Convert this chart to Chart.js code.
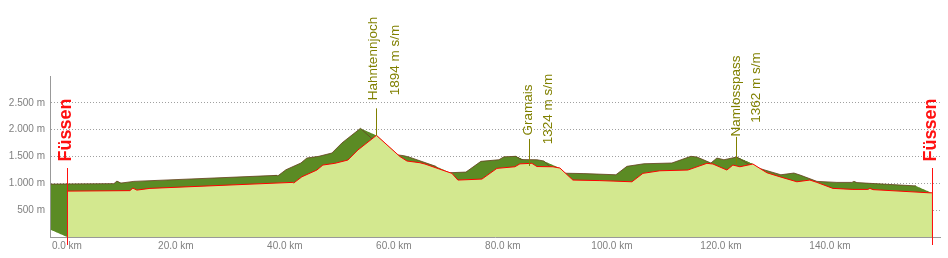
<!DOCTYPE html>
<html>
<head>
<meta charset="utf-8">
<script src="https://cdn.jsdelivr.net/npm/chart.js@4/dist/chart.umd.min.js"></script>
<style>
  html, body { margin: 0; padding: 0; background: #fff; }
  #wrap { width: 948px; height: 258px; position: relative; }
</style>
</head>
<body>
<div id="wrap"><canvas id="c"></canvas></div>
<script>
// ---- data ----
const distKm = [0, 11.56, 12.11, 12.84, 15.23, 41.47, 41.6, 43.12, 45.87, 46.97, 49.17, 51.56, 53.39, 56.8,
  61.1, 62.39, 64.77, 65.69, 70.64, 71.74, 76.15, 78.9, 82.2, 83.12, 85.32, 86.24, 89.17, 90.46, 92.84,
  97.8, 103.67, 105.69, 108.8, 113.94, 117.43, 118.53, 121.1, 122.2, 123.49, 125.87, 128.44, 131.19,
  133.94, 136.33, 137.61, 140.55, 144.22, 146.97, 147.34, 147.9, 158.35, 158.72];
const elevM = [855, 864, 911, 874, 906, 1018, 1005, 1122, 1248, 1341, 1373, 1434, 1621, 1894,
  1500, 1416, 1384, 1360, 1186, 1061, 1079, 1279, 1309, 1363, 1373, 1313, 1309, 1285, 1061,
  1051, 1029, 1186, 1234, 1248, 1373, 1360, 1248, 1341, 1309, 1360, 1197, 1111,
  1029, 1061, 1018, 906, 887, 887, 906, 883, 823, 823];
const xTicks = [0, 20, 40, 60, 80, 100, 120, 140];
const yTicks = [500, 1000, 1500, 2000, 2500];
const passNames = ['Hahntennjoch', 'Gramais', 'Namlosspass'];
const passKm = [56.8, 84.77, 122.7];
const passElev = [1894, 1324, 1362];
const endNames = ['Füssen', 'Füssen'];
const endKm = [0, 158.72];

// ---- styles / layout (pixels) ----
const passLayout = [
  { nameDx: -3.5, elevDx: 18.5, nameCy: 58.5, elevCy: 60 },
  { nameDx: -1, elevDx: 19, nameCy: 110, elevCy: 109 },
  { nameDx: 0, elevDx: 20, nameCy: 96, elevCy: 87.5 }
];
const DEPTH_X = -16, DEPTH_Y = -7;

function fmtThousands(v) {
  return String(v).replace(/\B(?=(\d{3})+(?!\d))/g, '.');
}

const depthPlugin = {
  id: 'depth',
  beforeDatasetsDraw(chart) {
    const meta = chart.getDatasetMeta(0);
    const pts = meta.data;
    if (!pts.length) return;
    const ctx = chart.ctx;
    const base = chart.scales.y.getPixelForValue(0);
    const N = 32;
    ctx.save();
    ctx.beginPath();
    for (let s = 0; s <= N; s++) {
      const ox = DEPTH_X * s / N, oy = DEPTH_Y * s / N;
      ctx.moveTo(pts[0].x + ox, base + oy);
      for (const p of pts) ctx.lineTo(p.x + ox, p.y + oy);
      ctx.lineTo(pts[pts.length - 1].x + ox, base + oy);
      ctx.closePath();
    }
    ctx.fillStyle = '#5b8b24';
    ctx.fill('nonzero');
    // top edge of the back surface
    ctx.beginPath();
    pts.forEach((p, i) => {
      const x = p.x + DEPTH_X, y = p.y + DEPTH_Y;
      if (i === 0) ctx.moveTo(x, y); else ctx.lineTo(x, y);
    });
    ctx.strokeStyle = 'rgba(105,70,35,0.85)';
    ctx.lineWidth = 1;
    ctx.stroke();
    ctx.restore();
  }
};

const labelPlugin = {
  id: 'labels',
  afterDatasetsDraw(chart) {
    const ctx = chart.ctx;
    const xs = chart.scales.x, ys = chart.scales.y;
    ctx.save();
    // pass markers
    passNames.forEach((name, i) => {
      const x = Math.round(xs.getPixelForValue(passKm[i])) + 0.5;
      const y = ys.getPixelForValue(passElev[i]);
      const L = passLayout[i];
      ctx.strokeStyle = '#808000';
      ctx.lineWidth = 1;
      ctx.beginPath();
      ctx.moveTo(x, y);
      ctx.lineTo(x, y - 27);
      ctx.stroke();
      ctx.fillStyle = '#808000';
      ctx.font = '13.5px "Liberation Sans", Arial, sans-serif';
      ctx.textAlign = 'center';
      ctx.textBaseline = 'middle';
      [[name, L.nameDx, L.nameCy], [passElev[i] + ' m s/m', L.elevDx, L.elevCy]].forEach(([t, dx, cy]) => {
        ctx.save();
        ctx.translate(x + dx, cy);
        ctx.rotate(-Math.PI / 2);
        ctx.fillText(t, 0, 0);
        ctx.restore();
      });
    });
    // start / end markers
    endNames.forEach((name, i) => {
      const x = Math.round(xs.getPixelForValue(endKm[i])) + 0.5;
      ctx.strokeStyle = '#ff1010';
      ctx.lineWidth = 1;
      ctx.beginPath();
      ctx.moveTo(x, 168);
      ctx.lineTo(x, 245);
      ctx.stroke();
      ctx.fillStyle = '#ff1010';
      ctx.font = 'bold 18px "Liberation Sans", Arial, sans-serif';
      ctx.textAlign = 'center';
      ctx.textBaseline = 'middle';
      ctx.save();
      ctx.translate(x - 1.5, 130);
      ctx.rotate(-Math.PI / 2);
      ctx.fillText(name, 0, 0);
      ctx.restore();
    });
    ctx.restore();
  }
};

const points = distKm.map((d, i) => ({ x: d, y: elevM[i] }));

new Chart(document.getElementById('c'), {
  type: 'line',
  data: {
    datasets: [{
      data: points,
      fill: 'origin',
      backgroundColor: '#d3e88f',
      borderColor: '#ff0000',
      borderWidth: 1,
      pointRadius: 0,
      tension: 0
    }]
  },
  options: {
    responsive: true,
    maintainAspectRatio: false,
    animation: false,
    events: [],
    layout: { padding: { left: 0, right: 8, top: 76, bottom: 0 } },
    plugins: { legend: { display: false }, tooltip: { enabled: false } },
    scales: {
      x: {
        type: 'linear',
        min: -3.1,
        max: 160.2,
        afterBuildTicks: s => { s.ticks = xTicks.map(v => ({ value: v })); },
        afterFit: s => { s.height = 21; },
        grid: { display: false, drawTicks: false },
        border: { display: true, color: '#999999', width: 1 },
        ticks: {
          padding: 3,
          maxRotation: 0,
          autoSkip: false,
          color: '#808080',
          font: { family: '"Liberation Sans", Arial, sans-serif', size: 10 },
          callback: v => v.toFixed(1) + ' km'
        }
      },
      y: {
        min: 0,
        max: 3000,
        afterBuildTicks: s => { s.ticks = yTicks.map(v => ({ value: v })); },
        afterFit: s => { s.width = 50; },
        grid: { drawTicks: false, color: '#a0a0a0', lineWidth: 1 },
        border: { display: true, color: '#999999', width: 1, dash: [1, 2] },
        ticks: {
          padding: 5,
          color: '#808080',
          font: { family: '"Liberation Sans", Arial, sans-serif', size: 10 },
          callback: v => fmtThousands(v) + ' m'
        }
      }
    }
  },
  plugins: [depthPlugin, labelPlugin]
});
</script>
</body>
</html>
